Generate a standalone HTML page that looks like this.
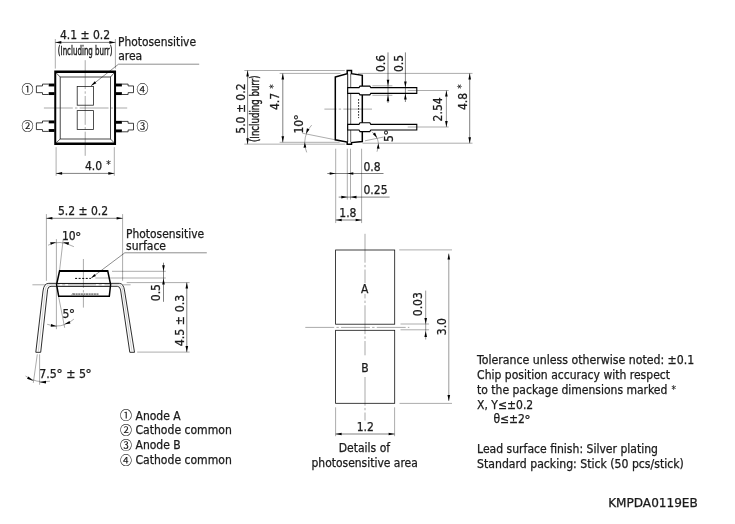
<!DOCTYPE html>
<html lang="en"><head><meta charset="utf-8"><title>KMPDA0119EB dimensional outline</title>
<style>
html,body{margin:0;padding:0;background:#fff;}
body{width:735px;height:524px;overflow:hidden;}
svg{display:block;will-change:transform;}
.t{font-family:"DejaVu Sans Condensed","Liberation Sans",sans-serif;font-size:12px;fill:#1a1a1a;stroke:#1a1a1a;stroke-width:0.25px;white-space:pre;}
.t.b{stroke-width:0.4px;}
.c{font-family:"Liberation Sans","Noto Sans CJK JP",sans-serif;font-size:12px;fill:#1a1a1a;stroke:#1a1a1a;stroke-width:0.12px;text-anchor:middle;}
.dg{font-family:"DejaVu Sans","Liberation Sans",sans-serif;font-size:12.8px;}
.as{font-size:10px;stroke-width:0.12px;}
</style></head><body>
<svg width="735" height="524" viewBox="0 0 735 524">
<rect width="735" height="524" fill="#fff"/>
<!-- top view -->
<g id="top-view">
<line x1="55.3" y1="39" x2="55.3" y2="68.6" stroke="#000" stroke-width="0.33"/>
<line x1="115.4" y1="39" x2="115.4" y2="68.6" stroke="#000" stroke-width="0.33"/>
<line x1="55.3" y1="42.4" x2="115.4" y2="42.4" stroke="#000" stroke-width="0.5"/>
<polygon points="55.30,42.40 61.30,41.10 61.30,43.70" fill="#000"/>
<polygon points="115.40,42.40 109.40,43.70 109.40,41.10" fill="#000"/>
<text class="t" x="59.9" y="39">4.1 ± 0.2</text>
<text class="t b" x="57.8" y="54.9" textLength="54.7" lengthAdjust="spacingAndGlyphs">(Including burr)</text>
<line x1="85.2" y1="60.2" x2="85.2" y2="155.8" stroke="#000" stroke-width="0.34" stroke-dasharray="28.9 2.2 2.4 2.24" stroke-dashoffset="0"/>
<line x1="43.9" y1="108" x2="127.2" y2="108" stroke="#000" stroke-width="0.34" stroke-dasharray="28.9 2.2 2.4 2.24" stroke-dashoffset="0"/>
<path d="M54.25 70.6 H116.05 V145.05 H54.25 Z M56.25 73 V142.6 H114.05 V73 Z" fill="#000" fill-rule="evenodd"/>
<rect x="60.2" y="77" width="50.3" height="62" fill="none" stroke="#333" stroke-width="0.9"/>
<line x1="56.3" y1="73" x2="60.2" y2="77" stroke="#000" stroke-width="0.6"/>
<line x1="114" y1="73" x2="110.5" y2="77" stroke="#000" stroke-width="0.6"/>
<line x1="56.3" y1="142.6" x2="60.2" y2="139" stroke="#000" stroke-width="0.6"/>
<line x1="114" y1="142.6" x2="110.5" y2="139" stroke="#000" stroke-width="0.6"/>
<rect x="77.2" y="86.4" width="16.2" height="18.8" fill="none" stroke="#222" stroke-width="0.8"/>
<rect x="77.2" y="110.6" width="16.2" height="18.8" fill="none" stroke="#222" stroke-width="0.8"/>
<line x1="54.6" y1="85" x2="48.7" y2="85" stroke="#000" stroke-width="2.9"/>
<line x1="54.6" y1="93.6" x2="48.7" y2="93.6" stroke="#000" stroke-width="2.9"/>
<path d="M48.7 84.1 L42.5 84.1 L42.5 85.95 L36.4 85.95 L36.4 92.65 L42.5 92.65 L42.5 94.5 L48.7 94.5" stroke="#111" stroke-width="0.8" fill="none" stroke-linejoin="miter"/>
<line x1="54.6" y1="121.9" x2="48.7" y2="121.9" stroke="#000" stroke-width="2.9"/>
<line x1="54.6" y1="130.5" x2="48.7" y2="130.5" stroke="#000" stroke-width="2.9"/>
<path d="M48.7 121 L42.5 121 L42.5 122.85 L36.4 122.85 L36.4 129.55 L42.5 129.55 L42.5 131.4 L48.7 131.4" stroke="#111" stroke-width="0.8" fill="none" stroke-linejoin="miter"/>
<line x1="116" y1="85" x2="121.9" y2="85" stroke="#000" stroke-width="2.9"/>
<line x1="116" y1="93.6" x2="121.9" y2="93.6" stroke="#000" stroke-width="2.9"/>
<path d="M121.9 84.1 L128.1 84.1 L128.1 85.95 L133.5 85.95 L133.5 92.65 L128.1 92.65 L128.1 94.5 L121.9 94.5" stroke="#111" stroke-width="0.8" fill="none" stroke-linejoin="miter"/>
<line x1="116" y1="122.3" x2="121.9" y2="122.3" stroke="#000" stroke-width="2.9"/>
<line x1="116" y1="130.9" x2="121.9" y2="130.9" stroke="#000" stroke-width="2.9"/>
<path d="M121.9 121.4 L128.1 121.4 L128.1 123.25 L133.5 123.25 L133.5 129.95 L128.1 129.95 L128.1 131.8 L121.9 131.8" stroke="#111" stroke-width="0.8" fill="none" stroke-linejoin="miter"/>
<text class="c" x="27.6" y="94.1">①</text>
<text class="c" x="27.6" y="131.2">②</text>
<text class="c" x="142.4" y="94.1">④</text>
<text class="c" x="142.4" y="131.3">③</text>
<line x1="56.1" y1="147.2" x2="56.1" y2="175.8" stroke="#000" stroke-width="0.33"/>
<line x1="114.3" y1="147.2" x2="114.3" y2="175.8" stroke="#000" stroke-width="0.33"/>
<line x1="56.1" y1="173.4" x2="114.3" y2="173.4" stroke="#000" stroke-width="0.5"/>
<polygon points="56.10,173.40 62.10,172.10 62.10,174.70" fill="#000"/>
<polygon points="114.30,173.40 108.30,174.70 108.30,172.10" fill="#000"/>
<text class="t" x="85" y="170">4.0 <tspan class="as" dy="-1.6" dx="0.6">*</tspan></text>
<text class="t" x="118" y="45.7" textLength="78.0" lengthAdjust="spacingAndGlyphs">Photosensitive</text>
<text class="t" x="118.2" y="60.4">area</text>
<path d="M199.2 64.2 L118.5 64.2 L91 85.8" stroke="#000" stroke-width="0.45" fill="none" stroke-linejoin="miter"/>
<polygon points="91.00,85.80 94.76,81.20 96.36,83.24" fill="#000"/>
</g>
<!-- side view -->
<g id="side-view">
<line x1="244.3" y1="70.5" x2="344.8" y2="70.5" stroke="#000" stroke-width="0.33"/>
<line x1="244.3" y1="144.15" x2="345.3" y2="144.15" stroke="#000" stroke-width="0.33"/>
<line x1="247.6" y1="70.5" x2="247.6" y2="144.2" stroke="#000" stroke-width="0.5"/>
<polygon points="247.60,70.50 248.90,76.50 246.30,76.50" fill="#000"/>
<polygon points="247.60,144.20 246.30,138.20 248.90,138.20" fill="#000"/>
<line x1="279.6" y1="73.4" x2="340.5" y2="73.4" stroke="#000" stroke-width="0.33"/>
<line x1="279.6" y1="142.3" x2="339.6" y2="142.3" stroke="#000" stroke-width="0.33"/>
<line x1="282.8" y1="73.4" x2="282.8" y2="142.3" stroke="#000" stroke-width="0.5"/>
<polygon points="282.80,73.40 284.10,79.40 281.50,79.40" fill="#000"/>
<polygon points="282.80,142.30 281.50,136.30 284.10,136.30" fill="#000"/>
<text class="t" transform="translate(245.2 133.7) rotate(-90)">5.0 ± 0.2</text>
<text class="t b" transform="translate(259.3 142) rotate(-90)" textLength="66.6" lengthAdjust="spacingAndGlyphs">(Including burr)</text>
<text class="t" transform="translate(279 110) rotate(-90)">4.7 <tspan class="as" dy="-1.6" dx="0.6">*</tspan></text>
<path d="M335.3 77 L347.2 73.7 L347.2 70.4 L351.5 70.4 L351.5 73.7 L362.3 75.3 L362.3 141.6 L351.5 142.6 L351.5 144.2 L347.2 144.2 L347.2 142 L335.3 139.8 Z" stroke="#000" stroke-width="1.5" fill="#fff" stroke-linejoin="miter"/>
<line x1="347.7" y1="73.7" x2="347.7" y2="142" stroke="#000" stroke-width="0.9"/>
<line x1="350.7" y1="73.7" x2="350.7" y2="142" stroke="#444" stroke-width="0.8"/>
<line x1="324.4" y1="109.1" x2="372" y2="109.1" stroke="#000" stroke-width="0.34" stroke-dasharray="28.9 2.2 2.4 2.24" stroke-dashoffset="16.8"/>
<line x1="358.6" y1="99.1" x2="358.6" y2="118.1" stroke="#000" stroke-width="0.9" stroke-dasharray="1.6 1.4"/>
<path d="M347.7 87.65 L359 87.65 L360 86.1 L369.8 86.1 L370.8 87.65 L416.8 87.65 L416.8 93.35 L370.8 93.35 L369.8 94.9 L360 94.9 L359 93.35 L347.7 93.35 Z" stroke="#000" stroke-width="1.1" fill="#fff" stroke-linejoin="miter"/>
<path d="M347.7 124.35 L359 124.35 L360 122.8 L369.8 122.8 L370.8 124.35 L416.8 124.35 L416.8 130.05 L370.8 130.05 L369.8 131.6 L360 131.6 L359 130.05 L347.7 130.05 Z" stroke="#000" stroke-width="1.1" fill="#fff" stroke-linejoin="miter"/>
<line x1="372.4" y1="85.8" x2="392.4" y2="85.8" stroke="#000" stroke-width="0.33"/>
<line x1="372.4" y1="95.3" x2="392.4" y2="95.3" stroke="#000" stroke-width="0.33"/>
<line x1="388" y1="52.4" x2="388" y2="103" stroke="#000" stroke-width="0.5"/>
<polygon points="388.00,85.80 386.70,79.80 389.30,79.80" fill="#000"/>
<polygon points="388.00,95.30 389.30,101.30 386.70,101.30" fill="#000"/>
<line x1="405.4" y1="52.4" x2="405.4" y2="102" stroke="#000" stroke-width="0.5"/>
<polygon points="405.40,87.40 404.10,81.40 406.70,81.40" fill="#000"/>
<polygon points="405.40,93.60 406.70,99.60 404.10,99.60" fill="#000"/>
<text class="t" transform="translate(384.8 72) rotate(-90)">0.6</text>
<text class="t" transform="translate(402.9 72) rotate(-90)">0.5</text>
<line x1="407.7" y1="90.5" x2="448.7" y2="90.5" stroke="#000" stroke-width="0.33"/>
<line x1="407.7" y1="127" x2="448.7" y2="127" stroke="#000" stroke-width="0.33"/>
<line x1="446.4" y1="90.5" x2="446.4" y2="127" stroke="#000" stroke-width="0.4"/>
<polygon points="446.40,90.50 447.70,96.50 445.10,96.50" fill="#000"/>
<polygon points="446.40,127.00 445.10,121.00 447.70,121.00" fill="#000"/>
<text class="t" transform="translate(442 121.4) rotate(-90)">2.54</text>
<line x1="358" y1="73.4" x2="472.5" y2="73.4" stroke="#000" stroke-width="0.33"/>
<line x1="362.6" y1="143.2" x2="472.5" y2="143.2" stroke="#000" stroke-width="0.33"/>
<line x1="469.7" y1="73.4" x2="469.7" y2="143.2" stroke="#000" stroke-width="0.5"/>
<polygon points="469.70,73.40 471.00,79.40 468.40,79.40" fill="#000"/>
<polygon points="469.70,143.20 468.40,137.20 471.00,137.20" fill="#000"/>
<text class="t" transform="translate(466.8 110) rotate(-90)">4.8 <tspan class="as" dy="-1.6" dx="0.6">*</tspan></text>
<line x1="302.4" y1="133.2" x2="335.3" y2="139.8" stroke="#000" stroke-width="0.33"/>
<path d="M311.7 125.1 Q305.2 132 304.7 142.4 Q304.8 148 306.7 152.4" stroke="#000" stroke-width="0.33" fill="none" stroke-linejoin="miter"/>
<polygon points="306.00,133.80 306.92,128.33 309.48,129.47" fill="#000"/>
<polygon points="304.80,142.40 306.30,147.57 303.50,147.63" fill="#000"/>
<text class="t" transform="translate(302.9 133.5) rotate(-90)">10<tspan class="dg" dx="-0.7" dy="0.5">°</tspan></text>
<line x1="365" y1="140.8" x2="383.2" y2="137.1" stroke="#000" stroke-width="0.33"/>
<path d="M371.7 131.7 Q377.6 136 378.4 143.1 Q378.4 148 377 151.7" stroke="#000" stroke-width="0.33" fill="none" stroke-linejoin="miter"/>
<polygon points="377.10,138.00 372.74,134.09 375.06,132.51" fill="#000"/>
<polygon points="378.40,143.40 379.60,148.65 376.80,148.55" fill="#000"/>
<text class="t" transform="translate(392.7 142) rotate(-90)">5<tspan class="dg" dx="-0.7" dy="0.5">°</tspan></text>
<line x1="335.7" y1="148.7" x2="335.7" y2="223.1" stroke="#000" stroke-width="0.33"/>
<line x1="347.3" y1="148.7" x2="347.3" y2="199.6" stroke="#000" stroke-width="0.33"/>
<line x1="350.5" y1="148.7" x2="350.5" y2="199.6" stroke="#000" stroke-width="0.33"/>
<line x1="361.6" y1="148.7" x2="361.6" y2="223.1" stroke="#000" stroke-width="0.33"/>
<line x1="327.3" y1="173.5" x2="383.5" y2="173.5" stroke="#000" stroke-width="0.5"/>
<polygon points="335.70,173.50 329.70,174.80 329.70,172.20" fill="#000"/>
<polygon points="347.30,173.50 353.30,172.20 353.30,174.80" fill="#000"/>
<line x1="338.7" y1="197.1" x2="389.6" y2="197.1" stroke="#000" stroke-width="0.5"/>
<polygon points="347.30,197.10 341.30,198.40 341.30,195.80" fill="#000"/>
<polygon points="350.50,197.10 356.50,195.80 356.50,198.40" fill="#000"/>
<line x1="335.7" y1="220" x2="361.6" y2="220" stroke="#000" stroke-width="0.5"/>
<polygon points="335.70,220.00 341.70,218.70 341.70,221.30" fill="#000"/>
<polygon points="361.60,220.00 355.60,221.30 355.60,218.70" fill="#000"/>
<text class="t" x="363.5" y="170.6">0.8</text>
<text class="t" x="363.5" y="193.9">0.25</text>
<text class="t" x="339.3" y="216.8">1.8</text>
</g>
<!-- front view -->
<g id="front-view">
<line x1="46.4" y1="214.1" x2="46.4" y2="280.8" stroke="#000" stroke-width="0.33"/>
<line x1="122.6" y1="214.1" x2="122.6" y2="280.8" stroke="#000" stroke-width="0.33"/>
<line x1="46.4" y1="218.3" x2="122.6" y2="218.3" stroke="#000" stroke-width="0.5"/>
<polygon points="46.40,218.30 52.40,217.00 52.40,219.60" fill="#000"/>
<polygon points="122.60,218.30 116.60,219.60 116.60,217.00" fill="#000"/>
<text class="t" x="57.9" y="215">5.2 ± 0.2</text>
<text class="t" x="61.9" y="240.2">10<tspan class="dg" dx="-0.7" dy="0.5">°</tspan></text>
<path d="M48.1 245.2 Q59 239 73.9 246.7" stroke="#000" stroke-width="0.33" fill="none" stroke-linejoin="miter"/>
<polygon points="56.30,242.20 50.81,244.87 50.19,242.13" fill="#000"/>
<polygon points="62.90,242.20 69.05,242.34 68.35,245.06" fill="#000"/>
<line x1="56.4" y1="239.1" x2="56.4" y2="329.2" stroke="#000" stroke-width="0.33"/>
<line x1="63.2" y1="239.2" x2="59.6" y2="270.3" stroke="#000" stroke-width="0.33"/>
<line x1="58.6" y1="296.5" x2="64.7" y2="327.8" stroke="#000" stroke-width="0.33"/>
<line x1="32.4" y1="284.8" x2="130.6" y2="284.8" stroke="#000" stroke-width="0.33" stroke-dasharray="28 2.7 3 2.8" stroke-dashoffset="0.9"/>
<path d="M35.8 352.3 L43 291 Q43.9 283.35 48.8 283.35 L119.3 283.35 Q123.6 283.35 124.6 291 L134.5 352.3 L129.8 352.3 L120.6 290 Q120.1 286.3 117.3 286.3 L51 286.3 Q48 286.3 47.6 289.5 L40.7 352.3 Z" stroke="#222" stroke-width="0.95" fill="#fff" stroke-linejoin="round"/>
<path d="M38.25 352 L45.3 290.2 Q45.9 284.85 50 284.85 L118.3 284.85 Q121.9 284.85 122.6 290.2 L132.1 352" stroke="#c4c4c4" stroke-width="0.8" fill="none" stroke-linejoin="miter"/>
<path d="M59.6 270.8 L107.7 270.8 L110.6 284.6 L109.3 296.3 L58.7 296.3 L56.6 284.6 Z" stroke="#000" stroke-width="1.5" fill="#fff" stroke-linejoin="miter"/>
<line x1="59.4" y1="271" x2="107.9" y2="271" stroke="#000" stroke-width="1.9"/>
<line x1="57" y1="283.45" x2="110" y2="283.45" stroke="#111" stroke-width="1.0"/>
<line x1="57" y1="286.35" x2="110" y2="286.35" stroke="#111" stroke-width="1.0"/>
<line x1="57.5" y1="284.9" x2="110" y2="284.9" stroke="#999" stroke-width="0.8" stroke-dasharray="28 2.7 3 2.8" stroke-dashoffset="26"/>
<line x1="83.4" y1="259" x2="83.4" y2="307.6" stroke="#000" stroke-width="0.34" stroke-dasharray="28.9 2.2 2.4 2.24" stroke-dashoffset="0"/>
<line x1="75.1" y1="278.4" x2="90.9" y2="278.4" stroke="#000" stroke-width="1.0" stroke-dasharray="2 1.55"/>
<line x1="73" y1="294.1" x2="99" y2="294.1" stroke="#888" stroke-width="1.7" stroke-dasharray="2.1 0.5"/>
<line x1="71.5" y1="295.4" x2="73.2" y2="293" stroke="#666" stroke-width="0.8"/>
<text class="t" x="126.1" y="237.5" textLength="78.0" lengthAdjust="spacingAndGlyphs">Photosensitive</text>
<text class="t" x="126.1" y="249.7">surface</text>
<path d="M206.8 252.8 L124.8 252.8 L91.2 278" stroke="#000" stroke-width="0.45" fill="none" stroke-linejoin="miter"/>
<polygon points="91.20,278.00 94.47,274.02 95.96,276.02" fill="#000"/>
<line x1="112" y1="271.3" x2="165.8" y2="271.3" stroke="#000" stroke-width="0.33"/>
<line x1="95.3" y1="278" x2="165.8" y2="278" stroke="#000" stroke-width="0.33"/>
<line x1="126.7" y1="282.6" x2="189.6" y2="282.6" stroke="#000" stroke-width="0.33"/>
<line x1="163.5" y1="262.7" x2="163.5" y2="301.8" stroke="#000" stroke-width="0.5"/>
<polygon points="163.50,271.30 162.20,265.30 164.80,265.30" fill="#000"/>
<polygon points="163.50,278.60 164.80,284.60 162.20,284.60" fill="#000"/>
<text class="t" transform="translate(160.1 301.2) rotate(-90)">0.5</text>
<line x1="137.2" y1="352.1" x2="189.6" y2="352.1" stroke="#000" stroke-width="0.33"/>
<line x1="186.8" y1="282.6" x2="186.8" y2="352.1" stroke="#000" stroke-width="0.5"/>
<polygon points="186.80,282.60 188.10,288.60 185.50,288.60" fill="#000"/>
<polygon points="186.80,352.10 185.50,346.10 188.10,346.10" fill="#000"/>
<text class="t" transform="translate(183.5 346.2) rotate(-90)" textLength="51.4" lengthAdjust="spacingAndGlyphs">4.5 ± 0.3</text>
<text class="t" x="62.6" y="317.7">5<tspan class="dg" dx="-0.7" dy="0.5">°</tspan></text>
<path d="M47.2 324.3 Q57 327.5 64.3 324.7 Q69.5 323 73.9 319.1" stroke="#000" stroke-width="0.33" fill="none" stroke-linejoin="miter"/>
<polygon points="56.70,326.30 50.69,326.78 51.11,324.02" fill="#000"/>
<polygon points="64.40,324.30 69.53,320.98 70.47,323.62" fill="#000"/>
<line x1="37.3" y1="354.3" x2="33.3" y2="382.9" stroke="#000" stroke-width="0.33"/>
<line x1="39.6" y1="354.3" x2="39.6" y2="384.8" stroke="#000" stroke-width="0.33"/>
<path d="M25.5 376 Q36 383.6 50 381.2" stroke="#000" stroke-width="0.33" fill="none" stroke-linejoin="miter"/>
<polygon points="33.50,380.90 27.01,378.82 28.39,376.38" fill="#000"/>
<polygon points="39.50,382.20 45.98,380.70 46.02,383.50" fill="#000"/>
<text class="t" x="39.3" y="377.8" textLength="52.6" lengthAdjust="spacingAndGlyphs">7.5<tspan class="dg" dx="-0.7" dy="0.5">°</tspan><tspan dy="-0.5"> ± 5</tspan><tspan class="dg" dx="-0.7" dy="0.5">°</tspan></text>
</g>
<!-- pin legend -->
<g id="legend">
<text class="c" x="125.9" y="420.2">①</text>
<text class="t" x="135.5" y="419.6">Anode A</text>
<text class="c" x="125.9" y="435.2">②</text>
<text class="t" x="135.5" y="434.35" textLength="96.3" lengthAdjust="spacingAndGlyphs">Cathode common</text>
<text class="c" x="125.9" y="450.2">③</text>
<text class="t" x="135.5" y="449.1">Anode B</text>
<text class="c" x="125.9" y="465.2">④</text>
<text class="t" x="135.5" y="463.85" textLength="96.3" lengthAdjust="spacingAndGlyphs">Cathode common</text>
</g>
<!-- detail of photosensitive area -->
<g id="detail">
<line x1="365" y1="233.8" x2="365" y2="420.5" stroke="#000" stroke-width="0.34" stroke-dasharray="28.9 2.2 2.4 2.24" stroke-dashoffset="0"/>
<line x1="305.3" y1="327.4" x2="409.3" y2="327.4" stroke="#000" stroke-width="0.34" stroke-dasharray="28.9 2.2 2.4 2.24" stroke-dashoffset="0"/>
<rect x="360" y="283.2" width="10" height="10.6" fill="#fff"/>
<rect x="360" y="355.3" width="10" height="21.7" fill="#fff"/>
<rect x="335.6" y="250" width="59.1" height="74.2" fill="none" stroke="#111" stroke-width="0.8"/>
<rect x="335.6" y="330.3" width="59.1" height="73" fill="none" stroke="#111" stroke-width="0.8"/>
<line x1="399.2" y1="249.9" x2="452" y2="249.9" stroke="#000" stroke-width="0.33"/>
<line x1="399.5" y1="403.4" x2="452" y2="403.4" stroke="#000" stroke-width="0.33"/>
<line x1="448.8" y1="253.6" x2="448.8" y2="400.9" stroke="#000" stroke-width="0.4"/>
<polygon points="448.80,253.60 450.10,259.60 447.50,259.60" fill="#000"/>
<polygon points="448.80,400.90 447.50,394.90 450.10,394.90" fill="#000"/>
<line x1="400.5" y1="324" x2="429.1" y2="324" stroke="#000" stroke-width="0.33"/>
<line x1="400.5" y1="329.8" x2="429.1" y2="329.8" stroke="#000" stroke-width="0.33"/>
<line x1="425.7" y1="290.6" x2="425.7" y2="339.5" stroke="#000" stroke-width="0.4"/>
<polygon points="425.70,324.00 424.40,318.00 427.00,318.00" fill="#000"/>
<polygon points="425.70,331.00 427.00,337.00 424.40,337.00" fill="#000"/>
<text class="t" transform="translate(422 316.2) rotate(-90)">0.03</text>
<text class="t" transform="translate(445.9 335.2) rotate(-90)">3.0</text>
<line x1="335.6" y1="407.3" x2="335.6" y2="436.2" stroke="#000" stroke-width="0.33"/>
<line x1="394.6" y1="407.3" x2="394.6" y2="436.2" stroke="#000" stroke-width="0.33"/>
<line x1="335.6" y1="434" x2="394.6" y2="434" stroke="#000" stroke-width="0.5"/>
<polygon points="335.60,434.00 341.60,432.70 341.60,435.30" fill="#000"/>
<polygon points="394.60,434.00 388.60,435.30 388.60,432.70" fill="#000"/>
<text class="t" x="356.7" y="430.6">1.2</text>
<text class="t" x="360.9" y="292.5">A</text>
<text class="t" x="361.2" y="371.9">B</text>
<text class="t" x="338.8" y="451.8">Details of</text>
<text class="t" x="311.5" y="466.5" textLength="106.3" lengthAdjust="spacingAndGlyphs">photosensitive area</text>
</g>
<!-- notes -->
<g id="notes">
<text class="t" x="477.1" y="364.3" textLength="217.2" lengthAdjust="spacingAndGlyphs">Tolerance unless otherwise noted: ±0.1</text>
<text class="t" x="477.1" y="379.3" textLength="192.9" lengthAdjust="spacingAndGlyphs">Chip position accuracy with respect</text>
<text class="t" x="477.1" y="394.2">to the package dimensions marked <tspan class="as" dy="-1.6" dx="0.6">*</tspan></text>
<text class="t" x="477.1" y="409.2">X, Y≤±0.2</text>
<text class="t" x="493.4" y="423.4">θ≤±2<tspan class="dg" dx="-0.7" dy="0.5">°</tspan></text>
<text class="t" x="477.1" y="453.4" textLength="180.9" lengthAdjust="spacingAndGlyphs">Lead surface finish: Silver plating</text>
<text class="t" x="477.1" y="468.3" textLength="206.7" lengthAdjust="spacingAndGlyphs">Standard packing: Stick (50 pcs/stick)</text>
<text class="t" x="608.2" y="507.2" textLength="89.6" lengthAdjust="spacingAndGlyphs">KMPDA0119EB</text>
</g>
</svg>
</body></html>
